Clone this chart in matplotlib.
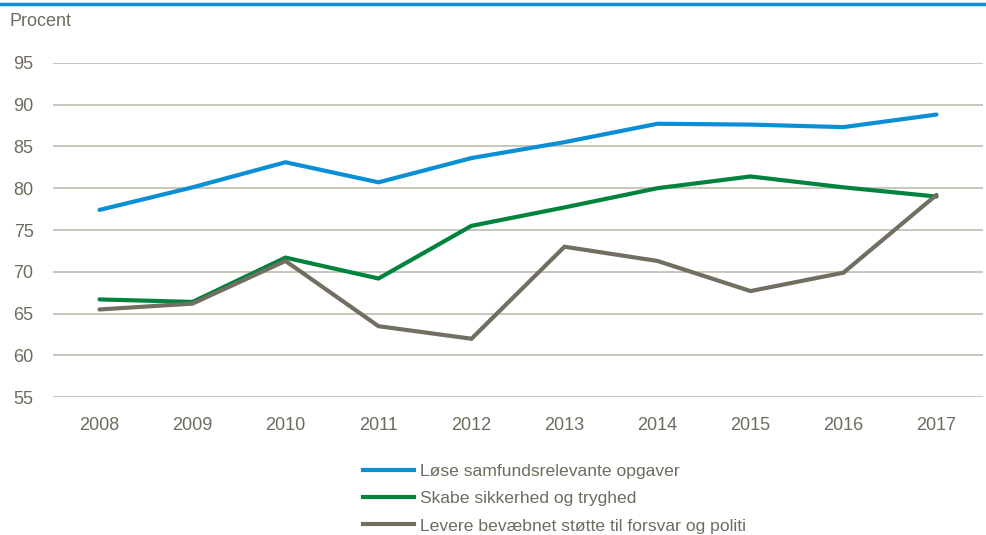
import matplotlib
matplotlib.use("Agg")
import matplotlib.pyplot as plt
from matplotlib.lines import Line2D

plt.rcParams['font.family'] = ['Liberation Sans', 'DejaVu Sans']

years = ['2008', '2009', '2010', '2011', '2012', '2013', '2014', '2015', '2016', '2017']
series_names = ['Løse samfundsrelevante opgaver',
                'Skabe sikkerhed og tryghed',
                'Levere bevæbnet støtte til forsvar og politi']
loese = [77.4, 80.1, 83.1, 80.7, 83.6, 85.5, 87.7, 87.6, 87.3, 88.8]
skabe = [66.7, 66.4, 71.7, 69.2, 75.5, 77.7, 80.0, 81.4, 80.1, 79.0]
levere = [65.5, 66.2, 71.3, 63.5, 62.0, 73.0, 71.3, 67.7, 69.9, 79.2]
yticks = [55, 60, 65, 70, 75, 80, 85, 90, 95]

colors = ['#0A8FD4', '#00843D', '#726E61']
text_color = '#6E6B5E'
grid_color = '#BFBDB0'

W, H = 987, 535
fig = plt.figure(figsize=(W / 100, H / 100), dpi=100)
ax = fig.add_axes([53 / W, 1 - 397.3 / H, (983 - 53) / W, (397.3 - 62.7) / H])

x = list(range(len(years)))
for vals, c in zip([loese, skabe, levere], colors):
    ax.plot(x, vals, color=c, lw=3.0, solid_capstyle='round', solid_joinstyle='miter', zorder=3)

ax.set_xlim(-0.5, len(years) - 0.5)
ax.set_ylim(55, 95)
ax.set_yticks(yticks)
ax.set_xticks(x)
ax.set_xticklabels(years)
ax.grid(axis='y', color=grid_color, lw=1.2)
ax.set_axisbelow(True)
for s in ax.spines.values():
    s.set_visible(False)
ax.tick_params(length=0, labelsize=13, colors=text_color)
ax.tick_params(axis='y', pad=14)
ax.tick_params(axis='x', pad=14)

fig.text(10 / W, 1 - 21 / H, 'Procent', fontsize=13, color=text_color, va='center', ha='left')

fig.add_artist(Line2D([0, 1], [1 - 4 / H, 1 - 4 / H], color='#0A8FD4', lw=2.5, transform=fig.transFigure))

handles = [Line2D([], [], color=c, lw=3.0) for c in colors]
leg = fig.legend(handles, series_names, loc='upper left', bbox_to_anchor=(363 / W, 1 - 464 / H),
                 frameon=False, fontsize=12.6, handlelength=2.9, handletextpad=0.35,
                 labelspacing=0.68, borderaxespad=0, borderpad=0, handleheight=0.7)
for t in leg.get_texts():
    t.set_color(text_color)

fig.savefig('out.png', dpi=100)
